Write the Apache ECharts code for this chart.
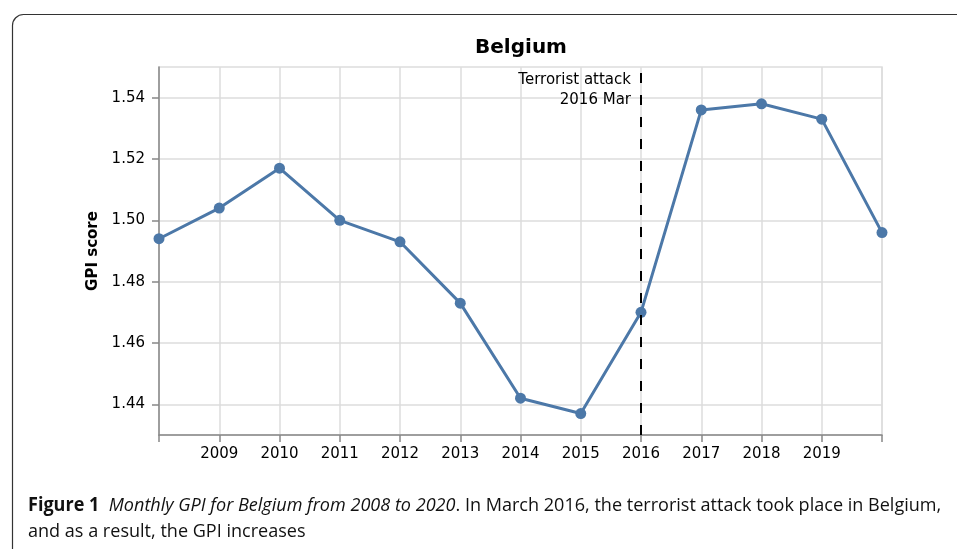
<!DOCTYPE html>
<html>
<head>
<meta charset="utf-8">
<script src="https://cdn.jsdelivr.net/npm/echarts@6/dist/echarts.min.js"></script>
<style>
  html, body { margin: 0; padding: 0; background: #fff; }
  #chart { width: 957px; height: 549px; }
</style>
</head>
<body>
<div id="chart"></div>
<script>
  // GPI score per year
  var years = [2008, 2009, 2010, 2011, 2012, 2013, 2014, 2015, 2016, 2017, 2018, 2019, 2020]
  var gpi = [1.494, 1.504, 1.517, 1.500, 1.493, 1.473, 1.442, 1.437, 1.470, 1.536, 1.538, 1.533, 1.496]
  var yTicks = [1.44, 1.46, 1.48, 1.50, 1.52, 1.54]
  var attackYear = 2016
  var attackLabel = ['Terrorist attack', '2016 Mar']

  var points = years.map(function (y, i) { return [y, gpi[i]] })

  var chart = echarts.init(document.getElementById('chart'))
  var font = '"DejaVu Sans", sans-serif'
  var capFont = '"Open Sans", sans-serif'

  chart.setOption({
    animation: false,
    title: {
      text: 'Belgium',
      left: 516, top: 33, textAlign: 'center',
      textStyle: { fontFamily: font, fontSize: 20, fontWeight: 'bold', color: '#000' }
    },
    grid: {
      left: 159, right: 75, top: 67, bottom: 114,
      show: true, borderColor: '#ddd', borderWidth: 1.5
    },
    xAxis: {
      type: 'value', min: 2008, max: 2020, interval: 1,
      axisLine: { lineStyle: { color: '#888', width: 1.5 } },
      axisTick: { show: true, length: 7, lineStyle: { color: '#888', width: 1.5 } },
      axisLabel: {
        fontFamily: font, fontSize: 15, color: '#000', margin: 12,
        formatter: function (v) { return (v === 2008 || v === 2020) ? '' : String(v) }
      },
      splitLine: { show: true, lineStyle: { color: '#ddd', width: 1.5 } }
    },
    yAxis: {
      type: 'value', min: 1.43, max: 1.55,
      name: 'GPI score', nameLocation: 'middle', nameGap: 53, nameRotate: 90,
      nameTextStyle: { fontFamily: font, fontSize: 15, fontWeight: 'bold', color: '#000' },
      axisLine: { show: true, lineStyle: { color: '#888', width: 1.5 } },
      axisTick: { show: true, length: 7, customValues: yTicks, lineStyle: { color: '#888', width: 1.5 } },
      axisLabel: {
        fontFamily: font, fontSize: 15, color: '#000', margin: 14,
        customValues: yTicks,
        formatter: function (v) { return v.toFixed(2) }
      },
      splitLine: { show: true, lineStyle: { color: '#ddd', width: 1.5 } }
    },
    series: [{
      type: 'line',
      data: points,
      symbol: 'circle',
      symbolSize: 11,
      lineStyle: { color: '#4c78a8', width: 3 },
      itemStyle: { color: '#4c78a8' },
      markLine: {
        silent: true,
        symbol: 'none',
        label: { show: false },
        lineStyle: { color: '#000', type: [10, 12], width: 2 },
        data: [{ xAxis: attackYear }]
      }
    }]
  })

  var px = chart.convertToPixel({ gridIndex: 0 }, [attackYear, 1.55])

  chart.setOption({
    graphic: [
      {
        type: 'rect', silent: true,
        shape: { x: 12.5, y: 14.5, width: 1100, height: 700, r: 11 },
        style: { fill: 'none', stroke: '#333', lineWidth: 1.2 }
      },
      {
        type: 'text', silent: true,
        x: px[0] - 10, y: px[1] + 3,
        style: {
          text: attackLabel.join('\n'), align: 'right', verticalAlign: 'top',
          fontFamily: font, fontSize: 15, lineHeight: 20, fill: '#000'
        }
      },
      {
        type: 'text', silent: true,
        x: 28, y: 493, scaleX: 0.95,
        style: {
          text: '{b|Figure 1}  {i|Monthly GPI for Belgium from 2008 to 2020}{r|. In March 2016, the terrorist attack took place in Belgium,}\n{r|and as a result, the GPI increases}',
          fontFamily: capFont, fontSize: 19, lineHeight: 26, fill: '#111',
          rich: {
            b: { fontFamily: capFont, fontSize: 19, fontWeight: 'bold', lineHeight: 26 },
            i: { fontFamily: capFont, fontSize: 19, fontStyle: 'italic', lineHeight: 26 },
            r: { fontFamily: capFont, fontSize: 19, lineHeight: 26 }
          }
        }
      }
    ]
  })
</script>
</body>
</html>
